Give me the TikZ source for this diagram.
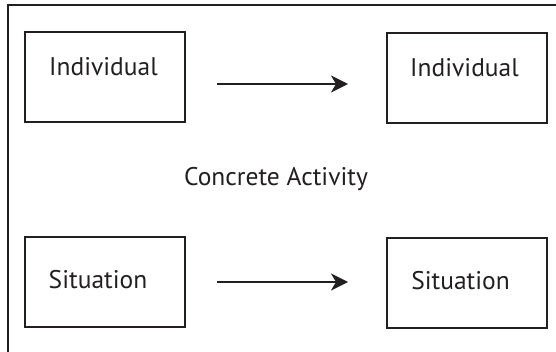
\documentclass[tikz,border=0pt]{standalone}
\usepackage{fontspec}
\setmainfont{PT Sans}
\usetikzlibrary{arrows.meta}
\definecolor{ink}{HTML}{231F20}
\begin{document}
\begin{tikzpicture}[x=1pt,y=-1pt,
  box/.style={draw=ink,line width=1.8pt,minimum width=160pt,minimum height=90pt,inner sep=0pt},
  lbl/.style={text=ink,font=\fontsize{25.5}{30}\selectfont,inner sep=0pt,anchor=base},
  conn/.style={draw=ink,line width=1.8pt,-{Stealth[length=17pt,width=17pt,inset=5pt]}}]
\useasboundingbox (0,0) rectangle (556,352);
\coordinate (fbl) at (8,353);
\coordinate (ftl) at (8,5);
\coordinate (ftr) at (557,5);
\draw[ink,line width=1.8pt] (fbl) -- (ftl) -- (ftr);
\node[box] (ind1) at (105,77) {};
\node[box] (ind2) at (467,78) {};
\node[box] (sit1) at (105,282) {};
\node[box] (sit2) at (467,283) {};
\node[lbl] (tind1) at (103.5,76) {Individual};
\node[lbl] (tind2) at (464.5,77) {Individual};
\node[lbl] (tsit1) at (98,288) {Situation};
\node[lbl] (tsit2) at (460.5,290) {Situation};
\node[lbl] (conc) at (276,186) {Concrete Activity};
\coordinate (a1s) at (217,84);
\coordinate (a1e) at (348,84);
\coordinate (a2s) at (217,282);
\coordinate (a2e) at (348,282);
\draw[conn] (a1s) -- (a1e);
\draw[conn] (a2s) -- (a2e);
\end{tikzpicture}
\end{document}
